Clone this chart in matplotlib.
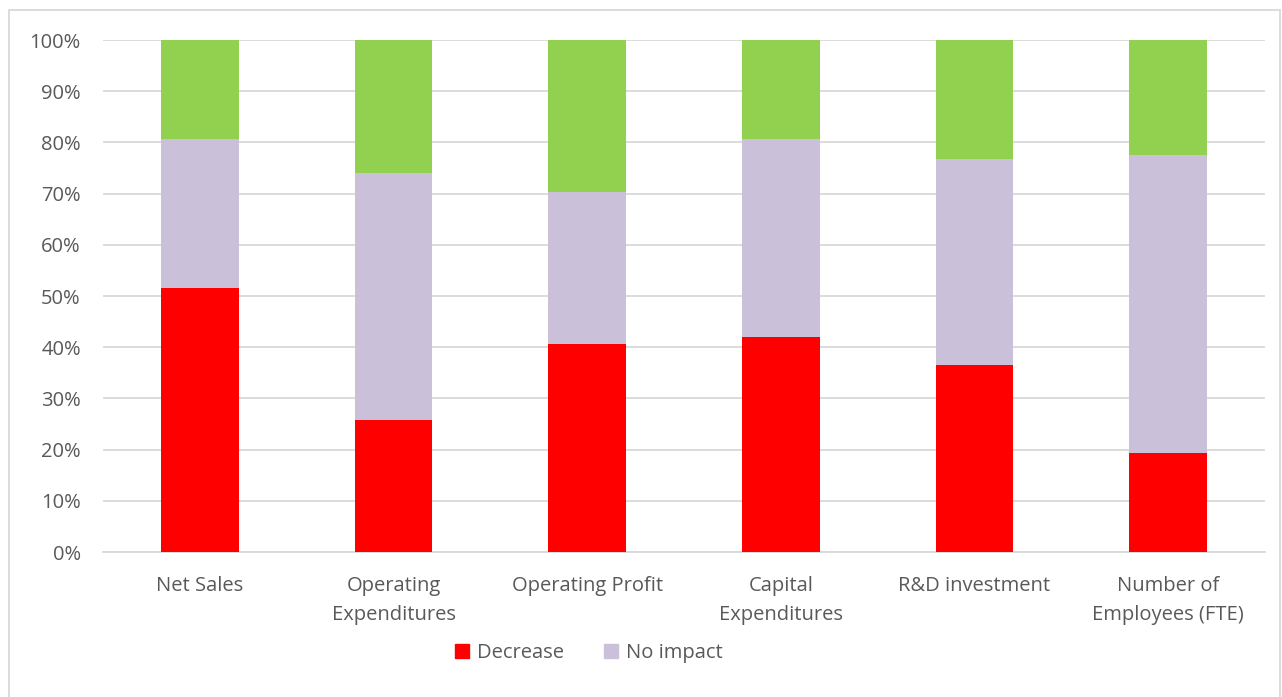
import numpy as np
from matplotlib import pyplot as plt
from matplotlib.patches import Rectangle, Patch

categories = ["Net Sales", "Operating\nExpenditures", "Operating Profit",
              "Capital\nExpenditures", "R&D investment", "Number of\nEmployees (FTE)"]
decrease = [51.5, 25.8, 40.6, 41.9, 36.5, 19.3]
no_impact = [29.1, 48.3, 29.8, 38.7, 40.2, 58.2]
increase = [19.4, 25.9, 29.6, 19.4, 23.3, 22.5]

RED = "#FF0000"
LAV = "#CBC0DA"
GREEN = "#92D050"
TXT = "#595959"
GRID = "#D9D9D9"

plt.rcParams["font.family"] = ["Open Sans", "DejaVu Sans"]

fig = plt.figure(figsize=(12.82, 6.97), dpi=100)
ax = fig.add_axes([103 / 1282, 1 - 552 / 697, 1162 / 1282, 512 / 697])

x = np.arange(len(categories))
w = 0.4
bottom2 = np.array(decrease) + np.array(no_impact)
ax.bar(x, decrease, w, color=RED, zorder=3)
ax.bar(x, no_impact, w, bottom=decrease, color=LAV, zorder=3)
ax.bar(x, increase, w, bottom=bottom2, color=GREEN, zorder=3)

ax.set_xlim(-0.5, len(categories) - 0.5)
ax.set_ylim(0, 100)
ax.set_yticks(range(0, 101, 10))
ax.set_yticklabels(["{0}%".format(v) for v in range(0, 101, 10)])
ax.set_xticks(x)
ax.set_xticklabels(categories, linespacing=1.62)
ax.tick_params(length=0, colors=TXT, labelsize=14.5)
ax.tick_params(axis="y", pad=16)
ax.tick_params(axis="x", pad=17)
ax.grid(axis="y", color=GRID, linewidth=1.3, zorder=0)
for s in ["top", "right", "left"]:
    ax.spines[s].set_visible(False)
ax.spines["bottom"].set_color(GRID)
ax.spines["bottom"].set_linewidth(1.3)

# chart border
fig.patches.append(Rectangle((9 / 1282, -0.1), 1271 / 1282, 1.1 - 10 / 697,
                             transform=fig.transFigure, fill=False,
                             edgecolor="#D9D9D9", linewidth=1.3))

handles = [Patch(color=RED, label="Decrease"), Patch(color=LAV, label="No impact")]
fig.legend(handles=handles, loc="center", bbox_to_anchor=(589 / 1282, 1 - 653 / 697),
           ncol=2, frameon=False, fontsize=14.5, labelcolor=TXT,
           handlelength=0.7, handleheight=0.7, handletextpad=0.4, columnspacing=2.0)

plt.savefig("out.png", dpi=100)
